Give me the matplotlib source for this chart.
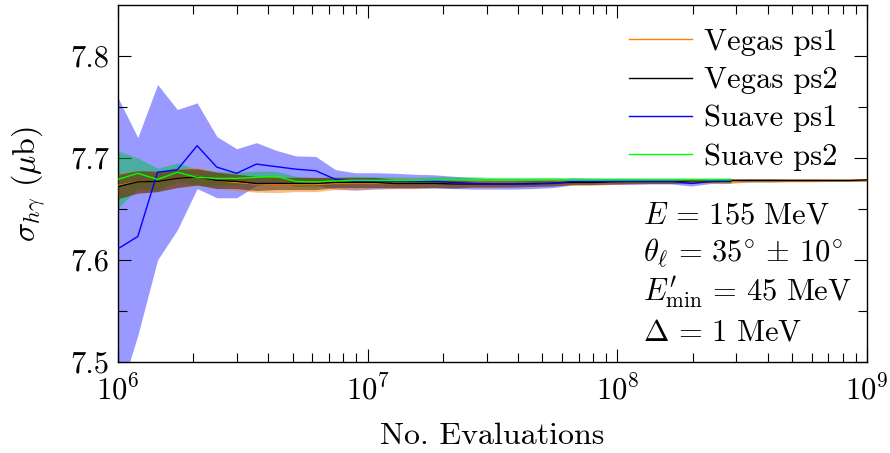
import matplotlib
matplotlib.use("Agg")
import matplotlib.pyplot as plt
import numpy as np

plt.rcParams["font.family"] = "serif"
plt.rcParams["font.serif"] = ["cmr10", "DejaVu Serif"]
plt.rcParams["mathtext.fontset"] = "cm"
plt.rcParams["axes.unicode_minus"] = False
plt.rcParams["axes.formatter.use_mathtext"] = True

# number of evaluations (grows by ~1.2 per step)
n_evals = [1.0e6, 1.2e6, 1.44e6, 1.728e6, 2.074e6, 2.488e6, 2.986e6, 3.583e6,
           4.300e6, 5.160e6, 6.192e6, 7.430e6, 8.916e6, 1.070e7, 1.284e7,
           1.541e7, 1.849e7, 2.219e7, 2.662e7, 3.195e7, 3.834e7, 4.601e7,
           5.521e7, 6.625e7, 7.950e7, 9.540e7, 1.145e8, 1.374e8, 1.648e8,
           1.978e8, 2.374e8, 2.849e8, 3.418e8, 4.102e8, 4.922e8, 5.907e8,
           7.088e8, 8.505e8, 1.0e9]

vegas_ps1 = [7.673, 7.6765, 7.677, 7.680, 7.682, 7.678, 7.676, 7.6745, 7.674,
             7.674, 7.674, 7.675, 7.675, 7.675, 7.675, 7.675, 7.675, 7.675,
             7.675, 7.675, 7.675, 7.675, 7.676, 7.676, 7.676, 7.676, 7.677,
             7.677, 7.677, 7.677, 7.677, 7.677, 7.678, 7.678, 7.678, 7.678,
             7.678, 7.678, 7.678]
vegas_ps1_err = [0.012, 0.011, 0.010, 0.009, 0.009, 0.008, 0.008, 0.008, 0.008,
                 0.007, 0.007, 0.006, 0.006, 0.005, 0.005, 0.005, 0.004, 0.004,
                 0.004, 0.004, 0.003, 0.003, 0.003, 0.003, 0.003, 0.002, 0.002,
                 0.002, 0.002, 0.002, 0.002, 0.002, 0.0015, 0.0015, 0.0015,
                 0.0015, 0.001, 0.001, 0.001]

vegas_ps2 = [7.672, 7.6765, 7.677, 7.680, 7.6815, 7.678, 7.677, 7.675, 7.675,
             7.675, 7.675, 7.676, 7.676, 7.676, 7.675, 7.675, 7.675, 7.6745,
             7.6745, 7.6745, 7.6745, 7.675, 7.6755, 7.676, 7.676, 7.6765,
             7.677, 7.677, 7.677, 7.6775, 7.6775, 7.678, 7.678, 7.678, 7.678,
             7.678, 7.678, 7.678, 7.6785]
vegas_ps2_err = [0.012, 0.011, 0.010, 0.009, 0.008, 0.008, 0.007, 0.007, 0.006,
                 0.006, 0.006, 0.005, 0.005, 0.005, 0.004, 0.004, 0.004, 0.004,
                 0.003, 0.003, 0.003, 0.003, 0.003, 0.002, 0.002, 0.002, 0.002,
                 0.002, 0.002, 0.002, 0.0015, 0.0015, 0.0015, 0.0015, 0.001,
                 0.001, 0.001, 0.001, 0.001]

suave_ps1 = [7.611, 7.623, 7.686, 7.6885, 7.712, 7.691, 7.685, 7.694, 7.6915,
             7.689, 7.6875, 7.679, 7.677, 7.6775, 7.6775, 7.677, 7.677, 7.676,
             7.675, 7.6745, 7.6745, 7.6745, 7.675, 7.677, 7.677, 7.677, 7.677,
             7.677, 7.677, 7.675, 7.677, 7.677]
suave_ps1_err = [0.148, 0.097, 0.086, 0.059, 0.042, 0.030, 0.024, 0.021, 0.016,
                 0.013, 0.014, 0.0095, 0.0085, 0.008, 0.0075, 0.007, 0.0065,
                 0.006, 0.0055, 0.005, 0.005, 0.0045, 0.004, 0.0035, 0.003,
                 0.003, 0.003, 0.0025, 0.0025, 0.0025, 0.002, 0.002]

suave_ps2 = [7.679, 7.685, 7.679, 7.686, 7.681, 7.680, 7.680, 7.681, 7.682,
             7.677, 7.6765, 7.6775, 7.678, 7.678, 7.678, 7.678, 7.6785, 7.6785,
             7.6785, 7.6785, 7.6785, 7.6785, 7.6785, 7.6785, 7.6785, 7.6785,
             7.6785, 7.6785, 7.6785, 7.6785, 7.6785, 7.6785]
suave_ps2_err = [0.028, 0.015, 0.011, 0.009, 0.008, 0.007, 0.006, 0.006, 0.005,
                 0.005, 0.004, 0.004, 0.004, 0.0035, 0.0035, 0.003, 0.003,
                 0.003, 0.003, 0.0025, 0.0025, 0.0025, 0.0025, 0.002, 0.002,
                 0.002, 0.002, 0.002, 0.002, 0.002, 0.002, 0.002]

info_lines = [r"$E\,=\,155\ \mathrm{MeV}$",
              r"$\theta_\ell\,=\,35^{\circ}\,\pm\,10^{\circ}$",
              r"$E^\prime_\mathrm{min}\,=\,45\ \mathrm{MeV}$",
              r"$\Delta\,=\,1\ \mathrm{MeV}$"]

fig = plt.figure(figsize=(8.9, 4.53), dpi=100)
ax = fig.add_axes([0.1326, 0.201, 0.8416, 0.788])

x = np.array(n_evals)
ns = len(suave_ps1)


def band(xs, y, err, color, alpha, z):
    y = np.array(y)
    err = np.array(err)
    ax.fill_between(xs, y - err, y + err, color=color, alpha=alpha,
                    linewidth=0, zorder=z)


band(x[:ns], suave_ps1, suave_ps1_err, "#0000ff", 0.4, 1)
band(x[:ns], suave_ps2, suave_ps2_err, "#00c040", 0.5, 2)
band(x, vegas_ps1, vegas_ps1_err, "#ff7f00", 0.5, 3)
band(x, vegas_ps2, vegas_ps2_err, "black", 0.4, 4)

lw = 1.0
ax.plot(x, vegas_ps1, color="#ff7f00", lw=lw, label="Vegas ps1", zorder=5)
ax.plot(x, vegas_ps2, color="black", lw=lw, label="Vegas ps2", zorder=6)
ax.plot(x[:ns], suave_ps1, color="#0000ff", lw=lw, label="Suave ps1", zorder=7)
ax.plot(x[:ns], suave_ps2, color="#00ff00", lw=lw, label="Suave ps2", zorder=8)

ax.set_xscale("log")
ax.set_xlim(1e6, 1e9)
ax.set_ylim(7.5, 7.85)
ax.set_yticks([7.5, 7.6, 7.7, 7.8])
ax.set_yticks([7.55, 7.65, 7.75], minor=True)
ax.set_yticklabels(["7.5", "7.6", "7.7", "7.8"])

ax.tick_params(which="both", direction="in", top=True, right=True,
               labelsize=22, width=0.8)
ax.tick_params(which="major", length=9.5, pad=6)
ax.tick_params(which="minor", length=6.5)
ax.tick_params(axis="x", which="major", pad=9)
for s in ax.spines.values():
    s.set_linewidth(1.0)

ax.set_xlabel("No. Evaluations", fontsize=23, labelpad=12)
ax.set_ylabel(r"$\sigma_{h\gamma}$ ($\mu$b)", fontsize=23, labelpad=16)

ax.legend(loc="upper right", bbox_to_anchor=(0.985, 0.985), frameon=False,
          fontsize=22, handlelength=2.05, handletextpad=0.4,
          labelspacing=0.35, borderaxespad=0.2)

ys = [0.389, 0.281, 0.171, 0.059]
for txt, yy in zip(info_lines, ys):
    ax.text(0.701, yy, txt, transform=ax.transAxes, fontsize=22,
            ha="left", va="baseline")

fig.savefig("out.png", dpi=100)
